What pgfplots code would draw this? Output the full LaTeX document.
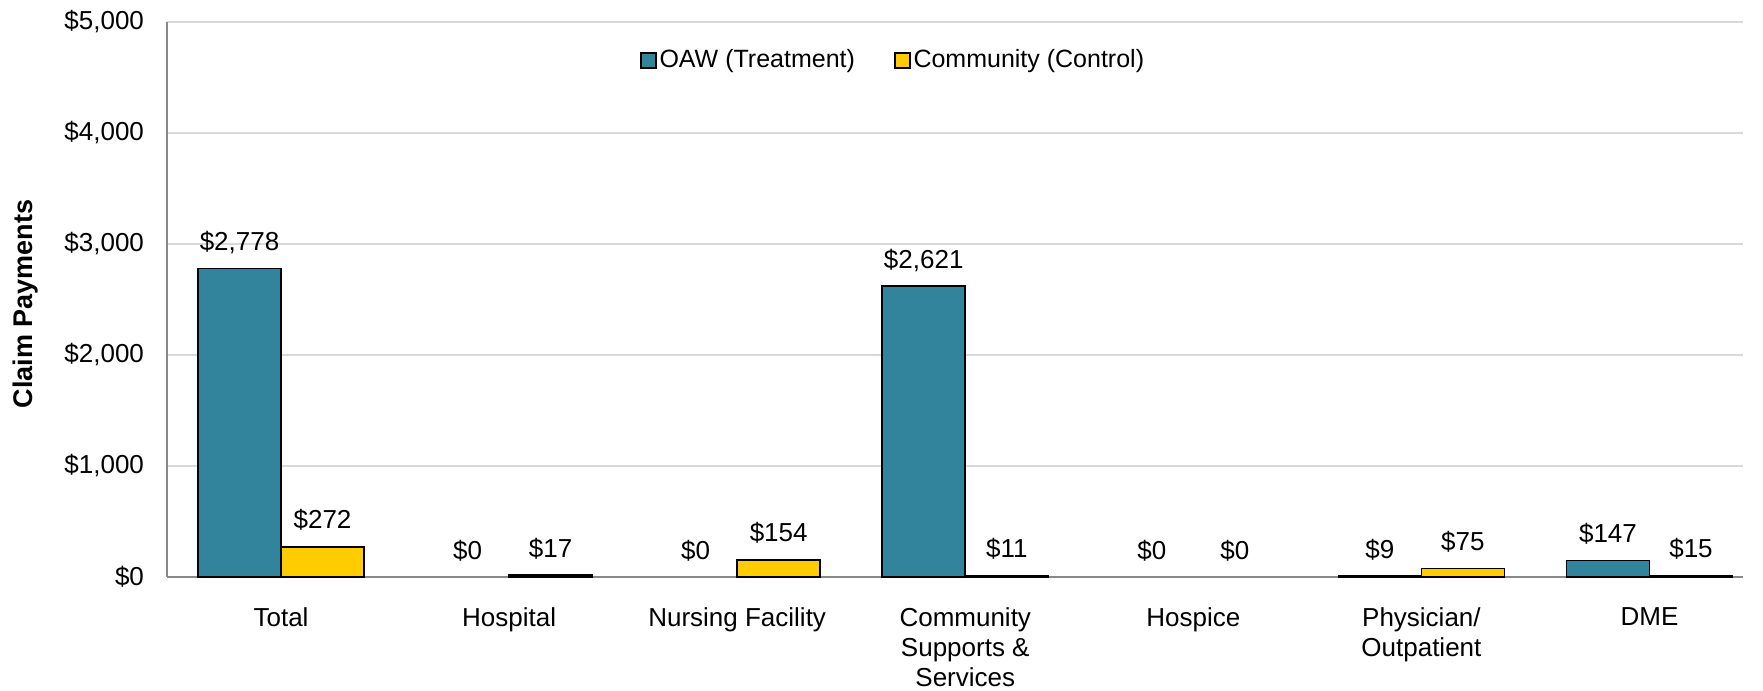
\documentclass[border=0pt]{standalone}
\usepackage{pgfplots}
\pgfplotsset{compat=1.18}
\usepackage{fontspec}
\setmainfont{Liberation Sans}
\definecolor{oawteal}{HTML}{31849B}
\definecolor{comyel}{HTML}{FFCC00}
\definecolor{axgray}{HTML}{898989}
\definecolor{grgray}{HTML}{D9D9D9}
\begin{document}
\begin{tikzpicture}[font=\fontsize{13}{15}\selectfont]
\begin{axis}[
  scale only axis, width=788pt, height=277.5pt,
  xmin=-0.5, xmax=6.41, ymin=0, ymax=5000,
  ytick={0,1000,2000,3000,4000,5000},
  yticklabel={\$\pgfmathprintnumber{\tick}},
  yticklabel style={xshift=-8pt},
  /pgf/number format/assume math mode=true,
  /pgf/number format/1000 sep={,},
  ymajorgrids, grid style={draw=grgray, line width=0.9pt},
  axis x line*=bottom, axis y line*=left,
  axis line style={draw=axgray, line width=1.1pt},
  major tick length=0pt,
  xtick={0,1,2,3,4,5,6},
  xticklabels={Total, Hospital, Nursing Facility, Community\\Supports \&\\Services, Hospice, Physician/\\Outpatient, DME},
  xticklabel style={align=center, yshift=-12pt},
  ylabel={\textbf{Claim Payments}},
  ylabel style={at={(axis description cs:-0.0895,0.492)}, anchor=center, font=\fontsize{13.5}{15}\selectfont},
  ybar, bar width=0.364,
  nodes near coords={\$\pgfmathprintnumber{\pgfplotspointmeta}},
  every node near coord/.append style={anchor=base, yshift=9pt, font=\fontsize{13}{15}\selectfont},
  legend style={at={(0.461,0.931)}, anchor=center, draw=none, fill=none,
    legend columns=2, font=\fontsize{12.5}{15}\selectfont,
    /tikz/nodes={inner xsep=1.5pt},
    /tikz/every even column/.append style={column sep=18pt},
    /tikz/every odd column/.append style={column sep=0pt}},
  legend image code/.code={\draw[#1] (0pt,-3.75pt) rectangle (7.5pt,3.75pt);},
]
\addplot[fill=oawteal, draw=black, line width=0.8pt, bar shift=-0.182] coordinates {(0,2778) (3,2621) (5,9) (6,147)};
\addlegendentry{OAW (Treatment)}
\addplot[fill=none, draw=none, bar shift=-0.182, forget plot] coordinates {(1,0) (2,0) (4,0)};
\addplot[fill=comyel, draw=black, line width=0.8pt, bar shift=0.182] coordinates {(0,272) (1,17) (2,154) (3,11) (5,75) (6,15)};
\addlegendentry{Community (Control)}
\addplot[fill=none, draw=none, bar shift=0.182, forget plot] coordinates {(4,0)};
\end{axis}
\pgfresetboundingbox
\path[use as bounding box] (current axis.south west) ++(-83.5pt,-57pt) rectangle ++(881.5pt,345.5pt);
\end{tikzpicture}
\end{document}
